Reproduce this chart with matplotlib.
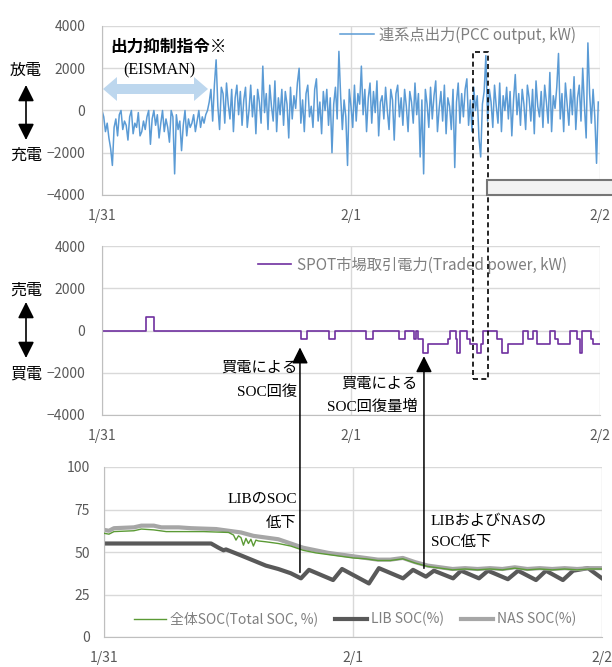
# 連系点出力・SPOT市場取引電力・SOC の3段グラフ
import matplotlib
matplotlib.use('Agg')
import matplotlib.pyplot as plt
import matplotlib.patches as mpatches
from matplotlib.patches import ConnectionPatch

plt.rcParams['font.family'] = ['Noto Sans CJK JP', 'DejaVu Sans']

# x軸 (日数, 0 = 1/31 0:00)
date_ticks = [0, 1, 2]
date_labels = ['1/31', '2/1', '2/2']

# 連系点出力 (10分値, 単位 100kW)
pcc_step_day = 1 / 144
pcc_hundreds = [
    0, -3, -10, -6, -13, -18, -26, -8, -4, -12, -2, 0, -9, -5, -7, -14, -3, 0, -11, -6,
    -8, -1, -12, -10, -5, -9, -3, 0, -16, -4, 0, -7, -2, -13, -6, 0, -10, -4, -8, -15,
    0, -3, -30, -2, -9, -5, -19, -7, 0, -12, -4, -8, -6, -2, -10, -5, 0, -8, -3, -6,
    -2, 0,
    4, 10, -5, 12, 24, 2, -9, 11, 8, -6, 13, 3, -4, 10, -10, 6, 12, -2, 9, -7,
    5, 11, -8, 0, 12, -3, 7, -11, 10, 4, -6, 21, -1, 8, -9, 12, 2, -5, 14, -10,
    6, -2, 10, -7, 9, 3, -13, 11, -4, 7, 1, 13, 20, -6, 5, -10, 8, 12, -3, 2,
    -8, 10, 15, -5, 4, -11, 9, 0, 10, -7, 6, -20, 3, 11, -4, 28, 7, -9, 5, -3,
    -26, 10, 2, -8, 12, -5, 8, 3, 21, -2, 10, -10, 6, 13, -6, 9, -1, 14, -12, 4,
    7, -4, 11, 0, -9, 10, 5, -14, 8, 12, -3, 6, -7, 10, 2, -10, 9, 4, -6, 13,
    -2, 8, -22, 5, -30, 10, 3, -8, 11, -4, 7, 14, -10, 1, 9, -5, 12, -11, 6, 2,
    -9, 10, -27, 4, 13, -6, 8, -3, 10, 15, -7, 5, -10, 11, 0, 7, -13, -22, 3, 9,
    26, -5, 10, 4, -8, 12, 2, -6, 13, -10, 7, 0, 11, -4, 9, -12, 5, 17, -2, 8,
    -7, 10, 3, -9, 12, 6, -5, 10, -11, 14, 2, -3, 9, -8, 12, 4, -6, 18, -10, 7,
    1, 11, 27, -4, 8, -10, 13, 3, -7, 10, -2, 16, -9, 6, 12, -5, 20, 2, -13, 32,
    8, -6, 10, -3, -25, 4,
]

# SPOT市場取引電力 (階段状, 開始時刻と値)
trade_t = [0, 0.175, 0.209, 0.800, 0.822, 0.911, 0.936, 1.059, 1.090, 1.194, 1.217,
           1.254, 1.261, 1.268, 1.288, 1.311, 1.391, 1.398, 1.422, 1.427, 1.438,
           1.467, 1.478, 1.507, 1.521, 1.529, 1.585, 1.605, 1.618, 1.632, 1.692,
           1.712, 1.732, 1.746, 1.799, 1.819, 1.833, 1.880, 1.906, 1.920, 1.929,
           1.949, 1.963, 1.973, 2.0]
trade_v = [0, 650, 0, -400, 0, -400, 0, -400, 0, -400, 0,
           -400, 0, -400, -1050, -620, -400, 0, -400, -1050, 0,
           -400, -620, -1050, -620, 0, -400, -1050, -1050, -620, 0,
           -400, 0, -620, 0, -400, -620, 0, -400, -1050, 0,
           0, -400, -620, -620]

# SOC (%)
total_t = [0, 0.02, 0.04, 0.12, 0.15, 0.2, 0.25, 0.4, 0.5, 0.52, 0.53, 0.54, 0.55,
           0.56, 0.57, 0.58, 0.59, 0.6, 0.61, 0.62, 0.65, 0.7, 0.75, 0.8, 0.85,
           0.9, 0.95, 1.0, 1.05, 1.1, 1.15, 1.2, 1.25, 1.3, 1.35, 1.4, 1.45, 1.5,
           1.55, 1.6, 1.65, 1.7, 1.75, 1.8, 1.85, 1.9, 1.95, 2.0]
total_v = [61, 60.5, 62, 62.5, 63.5, 63, 62, 62, 61.5, 60, 57, 59.5, 58.5,
           54, 58, 55, 57.5, 53.5, 57, 56.5, 56, 55, 53.5, 51, 49.5,
           48.5, 47.5, 46.5, 46, 45, 45, 46, 43.5, 41.5, 40.5, 39.5, 40, 39.5,
           40, 39.5, 40.5, 39.5, 40, 39.5, 40, 39.5, 40, 40]
lib_t = [0, 0.43, 0.46, 0.48, 0.49, 0.55, 0.6, 0.65, 0.7, 0.75, 0.791, 0.823,
         0.920, 0.956, 1.064, 1.104, 1.201, 1.241, 1.293, 1.325, 1.402, 1.434,
         1.506, 1.542, 1.622, 1.663, 1.735, 1.775, 1.843, 1.884, 1.944, 2.0]
lib_v = [55, 55, 52.5, 51, 51.5, 48, 45, 42, 40, 37.5, 34.5, 39.5,
         33.5, 40, 31.5, 40.5, 34.5, 39.5, 35.5, 39, 34.5, 39,
         34.5, 39, 34, 39, 33.5, 39, 33.5, 39, 40.5, 34.5]
nas_t = [0, 0.02, 0.04, 0.12, 0.15, 0.2, 0.23, 0.3, 0.35, 0.45, 0.5, 0.55, 0.6,
         0.65, 0.7, 0.75, 0.8, 0.85, 0.9, 0.95, 1.0, 1.05, 1.1, 1.15, 1.2, 1.25,
         1.3, 1.35, 1.4, 1.45, 1.5, 1.55, 1.6, 1.65, 1.7, 1.75, 1.8, 1.85, 1.9,
         1.95, 2.0]
nas_v = [63, 62.5, 64, 64.5, 65.5, 65.5, 64.5, 64.5, 64, 63.5, 62.5, 61.5, 59.5,
         58.5, 57.5, 55, 52.5, 51, 49.5, 48.5, 47.5, 46.5, 45.5, 45.5, 46.5, 44,
         42, 41, 40, 40.5, 40, 40.5, 40, 41, 40, 40.5, 40, 40.5, 40,
         40.5, 40.5]

W, H = 612, 667
fig = plt.figure(figsize=(W / 100, H / 100), dpi=100)


def fx(px):
    return px / W


def fy(py):
    return 1 - py / H


def style(ax, ymin, ymax, ystep, ypad):
    ax.set_xlim(0, 2)
    ax.set_ylim(ymin, ymax)
    ax.set_xticks(date_ticks)
    ax.set_xticklabels(date_labels)
    ax.set_yticks(list(range(ymin, ymax + 1, ystep)))
    ax.grid(True, color='#d9d9d9', lw=1)
    ax.set_axisbelow(True)
    for s in ['top', 'right']:
        ax.spines[s].set_visible(False)
    for s in ['left', 'bottom']:
        ax.spines[s].set_color('#bfbfbf')
    ax.tick_params(length=0, colors='#595959', labelsize=10)
    ax.tick_params(axis='x', pad=10)
    ax.tick_params(axis='y', pad=ypad)


ax1 = fig.add_axes([fx(102), fy(195), 498 / W, 169 / H])
ax2 = fig.add_axes([fx(102), fy(415), 498 / W, 169 / H])
ax3 = fig.add_axes([fx(104), fy(637), 498 / W, 170 / H])

# 1段目
pcc_t = [i * pcc_step_day for i in range(len(pcc_hundreds))]
pcc_v = [v * 100 for v in pcc_hundreds]
ax1.plot(pcc_t, pcc_v, color='#5b9bd5', lw=1.1, label='連系点出力(PCC output, kW)')
style(ax1, -4000, 4000, 2000, 12)
ax1.legend(loc='center left', bbox_to_anchor=(0.478, 0.947), frameon=False,
           borderpad=0, borderaxespad=0, handlelength=2.2, handletextpad=0.35,
           fontsize=11, labelcolor='#7f7f7f')

# 2段目
ax2.step(trade_t, trade_v, where='post', color='#7030a0', lw=1.2,
         label='SPOT市場取引電力(Traded power, kW)')
style(ax2, -4000, 4000, 2000, 12)
ax2.legend(loc='center left', bbox_to_anchor=(0.313, 0.888), frameon=False,
           borderpad=0, borderaxespad=0, handlelength=2.2, handletextpad=0.35,
           fontsize=11, labelcolor='#7f7f7f')

# 3段目
ax3.plot(total_t, total_v, color='#5b9a35', lw=1, label='全体SOC(Total SOC, %)', zorder=3)
ax3.plot(lib_t, lib_v, color='#595959', lw=3, label='LIB SOC(%)', zorder=2)
ax3.plot(nas_t, nas_v, color='#a6a6a6', lw=3, label='NAS SOC(%)', zorder=2)
style(ax3, 0, 100, 25, 10)
ax3.legend(loc='center left', bbox_to_anchor=(0.06, 0.106), frameon=False, ncol=3,
           borderpad=0, borderaxespad=0, handlelength=2.3, handletextpad=0.3,
           columnspacing=1.2, fontsize=10, labelcolor='#7f7f7f')

serif_jp = ['Liberation Serif', 'Noto Sans CJK JP']

# 左側ラベルと矢印
for label, py in [('放電', 70), ('充電', 155), ('売電', 290), ('買電', 374)]:
    fig.text(fx(26), fy(py), label, ha='center', va='center', fontsize=11.5)
for top, bot in [(85, 140), (302, 358)]:
    fig.add_artist(mpatches.FancyArrowPatch(
        (fx(26), fy(bot)), (fx(26), fy(top)), transform=fig.transFigure,
        arrowstyle='<|-|>,head_length=0.7,head_width=0.35', mutation_scale=14,
        color='black', lw=1.2, shrinkA=0, shrinkB=0))

# 出力抑制指令
fig.text(fx(110), fy(47), '出力抑制指令※', ha='left', va='center',
         fontsize=12, fontweight='bold')
fig.text(fx(159), fy(70), '(EISMAN)', ha='center', va='center',
         fontsize=11.5, family=serif_jp)
x0, x1, yc, hl, hw, bw = 103, 208, 89, 14, 12, 5
arrow_px = [(x0, yc), (x0 + hl, yc - hw), (x0 + hl, yc - bw), (x1 - hl, yc - bw),
            (x1 - hl, yc - hw), (x1, yc), (x1 - hl, yc + hw), (x1 - hl, yc + bw),
            (x0 + hl, yc + bw), (x0 + hl, yc + hw)]
fig.add_artist(mpatches.Polygon([(fx(x), fy(y)) for x, y in arrow_px], closed=True,
                                transform=fig.transFigure, fc='#bdd7ee', ec='none'))

# 破線枠と灰色の枠
fig.add_artist(mpatches.Rectangle((fx(473.3), fy(379.3)), fx(487.7) - fx(473.3),
                                  (379.3 - 51.7) / H, transform=fig.transFigure,
                                  fill=False, ec='black', lw=1.2, ls=(0, (3, 2))))
fig.add_artist(mpatches.Rectangle((fx(487.3), fy(195.3)), fx(650) - fx(487.3),
                                  15.3 / H, transform=fig.transFigure,
                                  fc='#f2f2f2', ec='#767676', lw=1.5))

# 注記
notes = [
    ('買電による', 297, 368, 'right'),
    ('SOC回復', 297, 392, 'right'),
    ('買電による', 418, 384, 'right'),
    ('SOC回復量増', 418, 407, 'right'),
    ('LIBのSOC', 297, 500, 'right'),
    ('低下', 296, 523, 'right'),
    ('LIBおよびNASの', 431, 521, 'left'),
    ('SOC低下', 431, 542, 'left'),
]
for text, px, py, ha in notes:
    fig.text(fx(px), fy(py), text, ha=ha, va='center', fontsize=11, family=serif_jp)

for xa, ya, xb, yb in [(0.787, 38, 0.795, -800), (1.285, 40.4, 1.293, -1215)]:
    con = ConnectionPatch(xyA=(xa, ya), coordsA=ax3.transData,
                          xyB=(xb, yb), coordsB=ax2.transData,
                          arrowstyle='-|>,head_length=0.7,head_width=0.35',
                          mutation_scale=14, color='black', lw=1.1,
                          shrinkA=0, shrinkB=0)
    fig.add_artist(con)

fig.savefig('out.png', dpi=100)
